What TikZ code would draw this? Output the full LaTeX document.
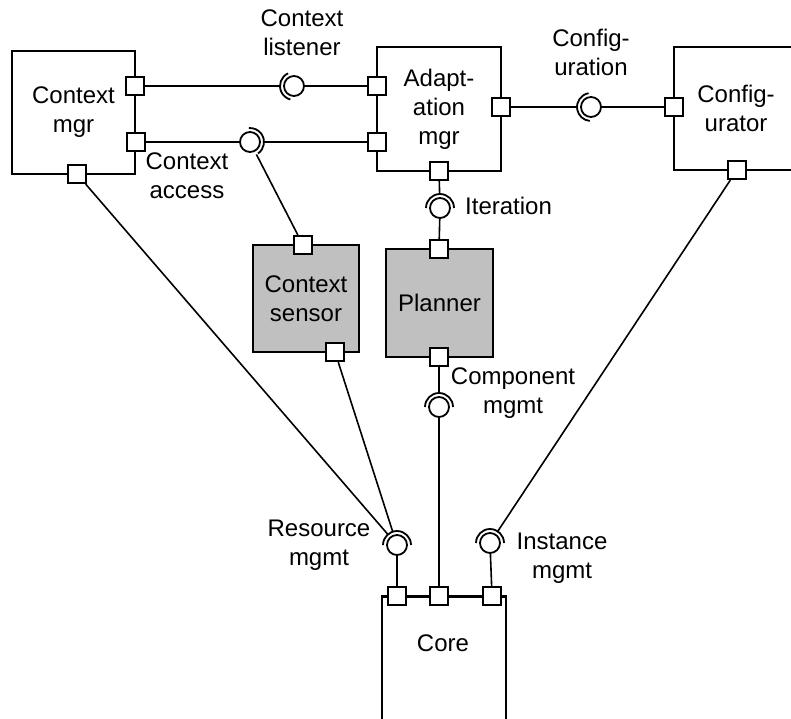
\documentclass[tikz,border=0pt]{standalone}
\usepackage{fontspec}
\setmainfont{Liberation Sans}
\definecolor{compgray}{RGB}{192,192,192}

\begin{document}
\begin{tikzpicture}[x=1pt, y=1pt, font=\fontsize{24}{29}\selectfont,
    comp/.style={draw, line width=2.5pt, minimum width=124pt, minimum height=124pt, align=center, inner sep=0pt},
    port/.style={draw, fill=white, line width=2.2pt, minimum size=18pt, inner sep=0pt},
    ball/.style={draw, circle, fill=white, line width=1.8pt, minimum size=20pt, inner sep=0pt, outer sep=0pt},
    sock/.style={circle, minimum size=28pt, inner sep=0pt, outer sep=0pt},
    sockline/.style={line width=1.8pt},
    wire/.style={line width=1.6pt},
    txt/.style={align=center, inner sep=0pt}]
    \useasboundingbox (0,0) rectangle (791,-718);

    % Components
    \node[comp, minimum width=123pt, minimum height=123pt] (ctxmgr) at (73.5,-112.5) {Context\\mgr};
    \node[comp] (adapt) at (439,-109) {Adapt-\\ation\\mgr};
    \node[comp, minimum height=123pt] (config) at (736,-108.5) {Config-\\urator};
    \node[comp, fill=compgray, minimum width=106pt, minimum height=107pt] (sensor) at (306,-298.5) {Context\\sensor};
    \node[comp, fill=compgray, minimum width=107pt, minimum height=108pt] (planner) at (439.5,-303) {Planner};
    \node[comp, minimum height=200pt, anchor=north] (core) at (444,-595) {};
    \node[txt] (corelbl) at (443,-643) {Core};

    % Ports
    \node[port] (cm-p1) at (135,-86) {};
    \node[port] (cm-p2) at (136,-142) {};
    \node[port] (cm-p3) at (77,-174) {};
    \node[port] (am-p1) at (377,-86) {};
    \node[port] (am-p2) at (377,-142) {};
    \node[port] (am-p3) at (501,-107) {};
    \node[port] (am-p4) at (439,-171) {};
    \node[port] (cf-p1) at (674,-107) {};
    \node[port] (cf-p2) at (737,-170) {};
    \node[port] (cs-p1) at (303,-245) {};
    \node[port] (cs-p2) at (335,-352) {};
    \node[port] (pl-p1) at (439,-249) {};
    \node[port] (pl-p2) at (439,-357) {};
    \node[port] (co-p1) at (397,-596) {};
    \node[port] (co-p2) at (439,-596) {};
    \node[port] (co-p3) at (492,-596) {};

    % Interfaces: ball = provided, socket = required
    \node[sock] (listen-s) at (294,-86) {};
    \node[sock] (access-s) at (250,-142) {};
    \node[sock] (confif-s) at (591,-107) {};
    \node[sock] (iter-s) at (440,-208) {};
    \node[sock] (compm-s) at (439,-407) {};
    \node[sock] (resm-s) at (397,-545) {};
    \node[sock] (instm-s) at (490,-543) {};

    \draw[sockline] (listen-s.115) arc[start angle=115, end angle=255, radius=14pt];
    \draw[sockline] (access-s.-55) arc[start angle=-55, end angle=95, radius=14pt];
    \draw[sockline] (confif-s.100) arc[start angle=100, end angle=265, radius=14pt];
    \draw[sockline] (iter-s.0) arc[start angle=0, end angle=180, radius=14pt];
    \draw[sockline] (compm-s.0) arc[start angle=0, end angle=180, radius=14pt];
    \draw[sockline] (resm-s.0) arc[start angle=0, end angle=180, radius=14pt];
    \draw[sockline] (instm-s.0) arc[start angle=0, end angle=180, radius=14pt];

    \node[ball] (listen) at (listen-s) {};
    \node[ball] (access) at (access-s) {};
    \node[ball] (confif) at (confif-s) {};
    \node[ball] (iter) at (iter-s) {};
    \node[ball] (compm) at (compm-s) {};
    \node[ball] (resm) at (resm-s) {};
    \node[ball] (instm) at (instm-s) {};

    % Connectors
    \draw[wire] (cm-p1) -- (listen-s);
    \draw[wire] (listen) -- (am-p1);
    \draw[wire] (cm-p2) -- (access);
    \draw[wire] (access-s) -- (am-p2);
    \draw[wire] (access-s) -- (cs-p1);
    \draw[wire] (am-p3) -- (confif-s);
    \draw[wire] (confif) -- (cf-p1);
    \draw[wire] (am-p4) -- (iter-s);
    \draw[wire] (iter) -- (pl-p1);
    \draw[wire] (pl-p2) -- (compm-s);
    \draw[wire] (compm) -- (co-p2);
    \draw[wire] (cm-p3) -- (resm-s);
    \draw[wire] (cs-p2) -- (resm-s);
    \draw[wire] (resm) -- (co-p1);
    \draw[wire] (cf-p2) -- (instm-s);
    \draw[wire] (instm) -- (co-p3);

    % Interface labels
    \node[txt] (listenlbl) at (302,-33) {Context\\listener};
    \node[txt] (accesslbl) at (187,-176) {Context\\access};
    \node[txt] (confiflbl) at (591,-52) {Config-\\uration};
    \node[txt, anchor=west] (iterlbl) at (465,-206) {Iteration};
    \node[txt] (compmlbl) at (513,-393) {Component\\mgmt};
    \node[txt] (resmlbl) at (319,-545) {Resource\\mgmt};
    \node[txt] (instmlbl) at (562,-558) {Instance\\mgmt};
\end{tikzpicture}
\end{document}
